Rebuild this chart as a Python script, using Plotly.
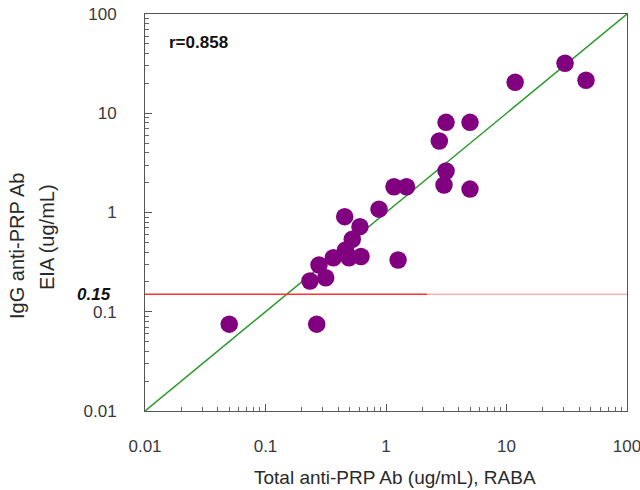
import math
import plotly.graph_objects as go

# Data (ug/mL)
raba_total = [0.050, 0.266, 0.234, 0.316, 0.278, 0.366, 0.493, 0.62, 0.462, 0.525,
              0.608, 0.454, 0.875, 1.165, 1.48, 1.26, 2.77, 3.15, 4.98, 3.15,
              3.03, 4.98, 11.8, 30.6, 45.7]
eia_igg = [0.075, 0.075, 0.204, 0.22, 0.296, 0.35, 0.35, 0.36, 0.42, 0.537,
           0.72, 0.908, 1.08, 1.82, 1.82, 0.332, 5.25, 8.1, 8.1, 2.62,
           1.89, 1.72, 20.5, 31.9, 21.5]
identity_x = [0.01, 100]
threshold = 0.15
threshold_split = 2.2
axis_range = [0.01, 100]
tick_vals = [0.01, 0.1, 1, 10, 100]
tick_text = ["0.01", "0.1", "1", "10", "100"]
minor_vals = [m * d for d in tick_vals[:-1] for m in range(2, 10)]
r_label = "r=0.858"

FONT = "Liberation Sans, Arial, sans-serif"
L, R, T, B = 145, 13, 14, 79
W, H = 640, 490
pw, ph = W - L - R, H - T - B


def px_x(p):
    return (p - L) / pw


def px_y(p):
    return 1 - (p - T) / ph


fig = go.Figure()
fig.add_trace(go.Scatter(x=identity_x, y=identity_x, mode="lines",
                         line=dict(color="#2e9a2e", width=1.5), hoverinfo="skip"))
fig.add_trace(go.Scatter(x=[axis_range[0], threshold_split], y=[threshold, threshold], mode="lines",
                         line=dict(color="#ff3333", width=1.6), hoverinfo="skip"))
fig.add_trace(go.Scatter(x=[threshold_split, axis_range[1]], y=[threshold, threshold], mode="lines",
                         line=dict(color="#ffb0b0", width=1.6), hoverinfo="skip"))
fig.add_trace(go.Scatter(x=raba_total, y=eia_igg, mode="markers",
                         marker=dict(color="#800080", size=17.5, line=dict(width=0)),
                         cliponaxis=False))

axis_common = dict(
    type="log",
    range=[math.log10(axis_range[0]), math.log10(axis_range[1])],
    tickmode="array", tickvals=tick_vals, ticktext=tick_text,
    ticks="inside", ticklen=7, tickcolor="#555", tickwidth=1,
    showline=True, linecolor="#555", linewidth=1, mirror=True,
    showgrid=False, zeroline=False, automargin=False,
    ticklabeloverflow="allow",
    minor=dict(tickmode="array", tickvals=minor_vals, ticks="inside", ticklen=4,
               tickcolor="#666", tickwidth=1, showgrid=False),
    tickfont=dict(family=FONT, size=17, color="#3a3a3a"),
)
fig.update_xaxes(**axis_common, ticklabelstandoff=20)
fig.update_yaxes(**axis_common, ticklabelstandoff=24)

fig.update_layout(
    template="none",
    width=W, height=H,
    margin=dict(l=L, r=R, t=T, b=B, autoexpand=False),
    plot_bgcolor="white", paper_bgcolor="white",
    showlegend=False,
    annotations=[
        dict(text="<b>" + r_label + "</b>", xref="paper", yref="paper",
             x=px_x(167), y=px_y(43), xanchor="left", yanchor="middle",
             showarrow=False, font=dict(family=FONT, size=17, color="#111")),
        dict(text="<b><i>" + str(threshold) + "</i></b>", xref="paper", yref="y",
             x=px_x(113), y=math.log10(threshold), xanchor="right", yanchor="middle",
             yshift=0, showarrow=False, font=dict(family=FONT, size=17, color="#111")),
        dict(text="Total anti-PRP Ab (ug/mL), RABA", xref="paper", yref="paper",
             x=px_x(394.5), y=px_y(477), xanchor="center", yanchor="middle",
             showarrow=False, font=dict(family=FONT, size=19, color="#2a2a2a")),
        dict(text="IgG anti-PRP Ab", xref="paper", yref="paper",
             x=px_x(17), y=px_y(246), xanchor="center", yanchor="middle", textangle=-90,
             showarrow=False, font=dict(family=FONT, size=20, color="#2a2a2a")),
        dict(text="EIA (ug/mL)", xref="paper", yref="paper",
             x=px_x(47), y=px_y(237), xanchor="center", yanchor="middle", textangle=-90,
             showarrow=False, font=dict(family=FONT, size=20, color="#2a2a2a")),
    ],
)

fig.write_html("out.html", config={"displayModeBar": False},
               post_script="document.body.style.margin='0';")
